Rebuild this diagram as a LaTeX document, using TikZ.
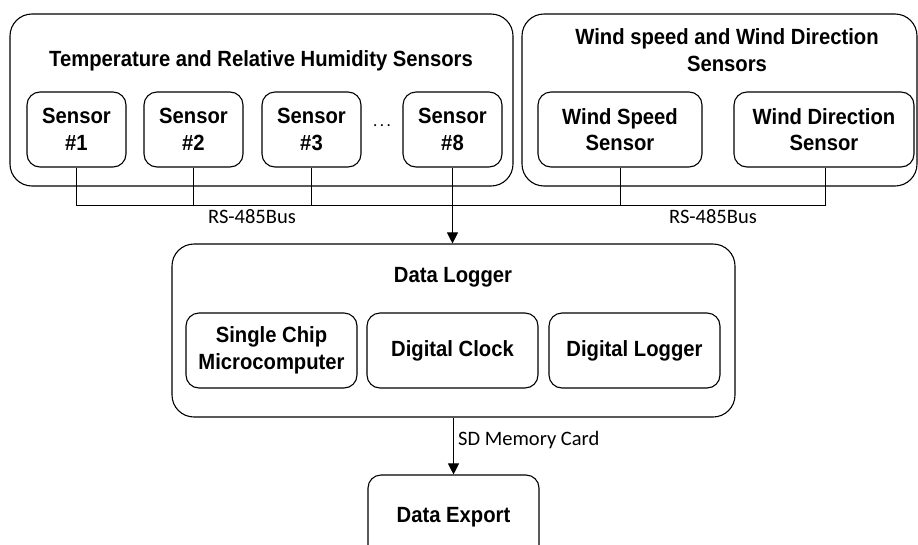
\documentclass[tikz,border=0pt]{standalone}
\usepackage{fontspec}
\setmainfont{Liberation Sans}
\newfontfamily\boxfont[FakeStretch=0.92]{Liberation Sans}
\newfontfamily\busfont{Carlito}
\usetikzlibrary{arrows.meta}
\begin{document}
\begin{tikzpicture}[x=1pt,y=-1pt,
  outerbox/.style={draw, line width=1.1pt, rounded corners=22pt, inner sep=0pt},
  innerbox/.style={draw, line width=1.1pt, rounded corners=13pt, inner sep=0pt,
    font=\boxfont\fontsize{22}{26.5}\selectfont\bfseries, align=center},
  ttl/.style={font=\boxfont\fontsize{22}{26.5}\selectfont\bfseries, align=center, inner sep=0pt},
  buslbl/.style={font=\busfont\fontsize{20.5}{24}\selectfont, inner sep=0pt},
  wire/.style={line width=1pt},
  arr/.style={line width=1pt, -{Triangle[length=11pt,width=11pt]}}]
\useasboundingbox (0,0) rectangle (918,544);
% outer groups
\node[outerbox, minimum width=503pt, minimum height=172pt] (temp) at (261.5,100) {};
\node[outerbox, minimum width=395pt, minimum height=172pt] (wind) at (719.5,100) {};
\node[ttl] (temptitle) at (261,61) {Temperature and Relative Humidity Sensors};
\node[ttl] (windtitle) at (727,50) {Wind speed and Wind Direction\\Sensors};
% sensors
\node[innerbox, minimum width=99pt, minimum height=75pt] (s1) at (76.5,129.5) {Sensor\\\#1};
\node[innerbox, minimum width=99pt, minimum height=75pt] (s2) at (193.5,129.5) {Sensor\\\#2};
\node[innerbox, minimum width=99pt, minimum height=75pt] (s3) at (311.5,129.5) {Sensor\\\#3};
\node[innerbox, minimum width=99pt, minimum height=75pt] (s8) at (452.5,129.5) {Sensor\\\#8};
\node[font=\busfont\fontsize{17}{20}\selectfont, inner sep=0pt] (dots) at (382,126) {.\hspace{2.5pt}.\hspace{2.5pt}.};
\node[innerbox, minimum width=164pt, minimum height=75pt] (ws) at (620,129.5) {Wind Speed\\Sensor};
\node[innerbox, minimum width=180pt, minimum height=75pt] (wd) at (824,129.5) {Wind Direction\\Sensor};
% data logger
\node[outerbox, minimum width=563pt, minimum height=173pt] (dl) at (453.5,330.5) {};
\node[ttl] (dltitle) at (453,277) {Data Logger};
\node[innerbox, minimum width=171pt, minimum height=75pt] (scm) at (271.5,350.5) {Single Chip\\Microcomputer};
\node[innerbox, minimum width=171pt, minimum height=75pt] (clk) at (452.5,350.5) {Digital Clock};
\node[innerbox, minimum width=171pt, minimum height=75pt] (dlg) at (634.5,350.5) {Digital Logger};
% export
\node[innerbox, minimum width=171pt, minimum height=84pt] (exp) at (453.5,517) {Data Export};
% bus
\coordinate (busL) at (76.5,205);
\coordinate (busR) at (825,205);
\draw[wire] (s1.south) -- (busL) -- (busR) -- (wd.south -| busR);
\draw[wire] (s2.south) -- (s2.south |- busL);
\draw[wire] (s3.south) -- (s3.south |- busL);
\draw[wire] (ws.south) -- (ws.south |- busL);
\node[buslbl] (bus1) at (252,217) {RS-485Bus};
\node[buslbl] (bus2) at (713,217) {RS-485Bus};
% arrows
\draw[arr] (s8.south) -- (s8.south |- dl.north);
\draw[arr] (dl.south -| exp.north) -- (exp.north);
\node[buslbl, anchor=west] (sd) at (458,440) {SD Memory Card};
\end{tikzpicture}
\end{document}
